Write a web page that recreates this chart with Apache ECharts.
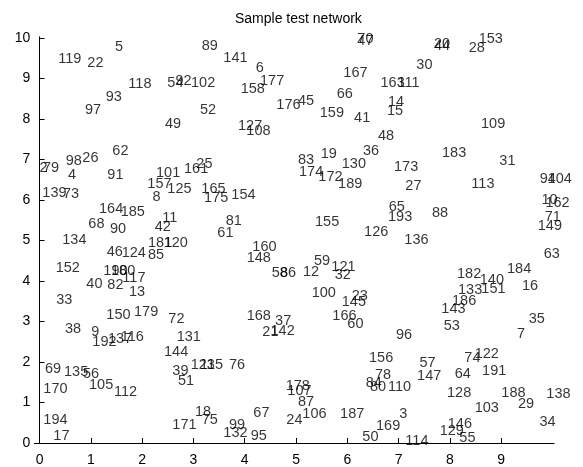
<!DOCTYPE html>
<html>
<head>
<meta charset="utf-8">
<script src="https://cdn.jsdelivr.net/npm/echarts@6/dist/echarts.min.js"></script>
<style>html,body{margin:0;padding:0;background:#fff}#c{width:583px;height:467px}</style>
</head>
<body>
<div id="c"></div>
<script>
const titleText = "Sample test network";
const xTicks = [0,1,2,3,4,5,6,7,8,9];
const yTicks = [0,1,2,3,4,5,6,7,8,9,10];

const nodeLabels = ["119","22","5","118","97","93","49","62","98","26","2","79","4","91","101","161","25","54","92","102",
"89","141","6","177","158","52","176","45","127","108","70","47","167","66","159","41","48","36","19","130",
"83","174","172","189","163","111","14","15","30","20","44","28","153","109","183","31","173","139","73","164",
"185","157","125","8","68","90","11","42","134","181","120","46","124","85","152","190","180","117","40","82",
"13","33","150","179","72","38","9","192","137","116","131","144","69","135","56","170","105","112","194","17",
"39","51","171","123","115","76","168","37","21","142","166","60","178","107","87","18","75","67","99","132",
"95","24","106","187","50","156","84","80","78","110","169","3","143","53","96","35","7","57","74","122",
"147","64","191","128","188","29","138","103","34","129","146","55","114","27","113","94","104","10","162","71",
"149","65","193","88","126","136","63","182","140","184","133","151","16","186","165","175","154","81","61","155",
"160","148","59","121","32","58","86","12","100","23","145"];

const nodeX = [0.366,0.932,1.472,1.731,0.887,1.290,2.446,1.419,0.511,0.834,0.000,0.068,0.556,1.322,2.271,2.817,3.057,2.491,2.651,2.953,
3.162,3.583,4.214,4.298,3.922,3.129,4.616,5.039,3.869,4.031,6.195,6.195,5.922,5.793,5.462,6.131,6.598,6.306,5.481,5.891,
5.039,5.058,5.435,5.819,6.647,6.979,6.793,6.774,7.345,7.690,7.690,8.366,8.561,8.606,7.846,8.963,6.910,0.055,0.458,1.160,
1.583,2.101,2.491,2.203,0.951,1.374,2.394,2.246,0.444,2.115,2.419,1.310,1.602,2.115,0.316,1.244,1.394,1.614,0.912,1.322,
1.745,0.327,1.302,1.842,2.511,0.497,1.010,1.029,1.335,1.583,2.674,2.427,0.107,0.478,0.848,0.074,0.965,1.452,0.074,0.269,
2.589,2.700,2.589,2.947,3.129,3.694,4.039,4.591,4.343,4.503,5.708,6.000,4.799,4.830,5.039,3.031,3.162,4.168,3.694,3.583,
4.117,4.811,5.123,5.858,6.292,6.423,6.359,6.442,6.540,6.793,6.559,7.014,7.832,7.879,6.949,9.536,9.308,7.404,8.281,8.483,
7.359,8.094,8.626,7.943,9.002,9.327,9.879,8.483,9.743,7.801,7.957,8.183,7.131,7.131,8.417,9.751,9.903,9.782,9.860,9.848,
9.712,6.807,6.793,7.651,6.326,7.111,9.828,8.138,8.581,9.113,8.158,8.612,9.405,8.041,3.154,3.207,3.739,3.630,3.466,5.370,
4.148,4.039,5.351,5.688,5.754,4.526,4.688,5.136,5.306,6.086,5.891];

const nodeY = [9.474,9.390,9.785,8.864,8.222,8.551,7.884,7.217,6.963,7.030,6.798,6.798,6.617,6.617,6.679,6.758,6.877,8.896,8.931,8.901,
9.810,9.514,9.252,8.946,8.733,8.222,8.346,8.444,7.835,7.704,9.975,9.926,9.143,8.610,8.156,8.032,7.580,7.217,7.128,6.881,
6.988,6.684,6.575,6.388,8.894,8.881,8.412,8.205,9.333,9.852,9.802,9.746,9.975,7.869,7.168,6.963,6.822,6.165,6.141,5.770,
5.711,6.402,6.284,6.074,5.400,5.277,5.563,5.326,5.012,4.946,4.946,4.723,4.684,4.642,4.328,4.247,4.247,4.081,3.919,3.901,
3.736,3.531,3.160,3.227,3.062,2.815,2.748,2.501,2.556,2.610,2.625,2.254,1.827,1.760,1.704,1.333,1.432,1.252,0.568,0.173,
1.778,1.531,0.444,1.926,1.926,1.926,3.136,3.020,2.741,2.773,3.136,2.931,1.415,1.284,1.020,0.758,0.568,0.733,0.444,0.254,
0.173,0.568,0.709,0.709,0.141,2.091,1.474,1.390,1.679,1.390,0.427,0.716,3.309,2.896,2.667,3.062,2.684,1.983,2.091,2.190,
1.654,1.696,1.785,1.227,1.227,0.956,1.202,0.872,0.511,0.304,0.469,0.116,0.057,6.353,6.395,6.519,6.519,6.000,5.933,5.588,
5.358,5.835,5.588,5.672,5.217,5.012,4.659,4.173,4.025,4.296,3.778,3.802,3.884,3.506,6.264,6.042,6.123,5.489,5.193,5.464,
4.847,4.575,4.501,4.353,4.148,4.190,4.190,4.215,3.711,3.630,3.474];

const FONT = "'Liberation Sans', Arial, Helvetica, sans-serif";
const points = nodeLabels.map((n, i) => ({ name: n, value: [nodeX[i], nodeY[i]] }));

const chart = echarts.init(document.getElementById('c'), null, { renderer: 'canvas' });
chart.setOption({
  animation: false,
  backgroundColor: '#ffffff',
  title: {
    text: titleText,
    left: 235, top: 12, padding: 0,
    textStyle: { fontFamily: FONT, fontSize: 14, fontWeight: 'normal', color: '#000' }
  },
  grid: { left: 34.4, right: 28.9, top: 36.8, bottom: 24, containLabel: false },
  xAxis: {
    type: 'value', min: -0.1, max: 10.03,
    splitLine: { show: false },
    axisLine: { show: true, lineStyle: { color: '#000', width: 1 } },
    axisTick: { show: true, inside: true, length: 5, customValues: xTicks, lineStyle: { color: '#000' } },
    axisLabel: { customValues: xTicks, margin: 10, color: '#000', fontFamily: FONT, fontSize: 14 }
  },
  yAxis: {
    type: 'value', min: 0, max: 10.03,
    splitLine: { show: false },
    axisLine: { show: true, lineStyle: { color: '#000', width: 1 } },
    axisTick: { show: true, inside: true, length: 5, customValues: yTicks, lineStyle: { color: '#000' } },
    axisLabel: { customValues: yTicks, margin: 4, color: '#000', fontFamily: FONT, fontSize: 14 }
  },
  series: [{
    type: 'scatter',
    symbolSize: 0,
    itemStyle: { color: 'rgba(0,0,0,0)' },
    data: points,
    label: {
      show: true, position: 'right', distance: 0,
      formatter: p => p.name,
      color: '#000', fontFamily: FONT, fontSize: 14.5
    },
    emphasis: { disabled: true }
  }]
});
</script>
</body>
</html>
